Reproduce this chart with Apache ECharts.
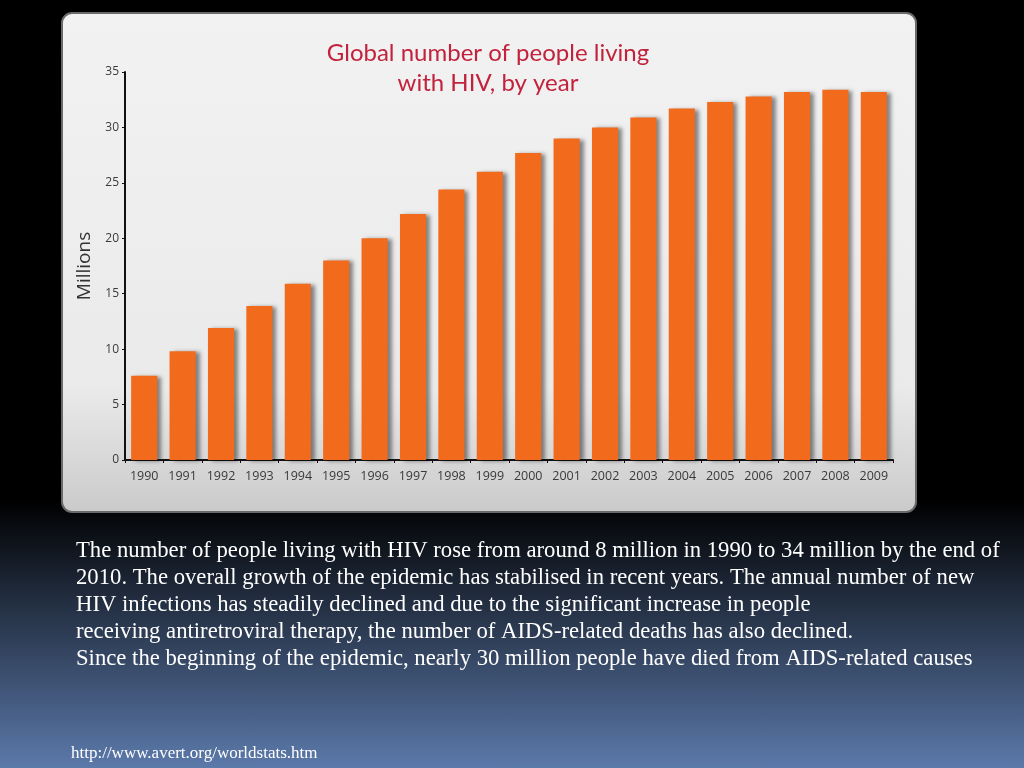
<!DOCTYPE html>
<html>
<head>
<meta charset="utf-8">
<script src="https://cdn.jsdelivr.net/npm/echarts@6/dist/echarts.min.js"></script>
<style>
html,body{margin:0;padding:0;width:1024px;height:768px;overflow:hidden;}
#c{width:1024px;height:768px;background:linear-gradient(to bottom,#000 0px,#000 500px,#5b79aa 768px);}
</style>
</head>
<body>
<div id="c"></div>
<script>
const years = ['1990','1991','1992','1993','1994','1995','1996','1997','1998','1999','2000','2001','2002','2003','2004','2005','2006','2007','2008','2009'];
const peopleLivingWithHIV = [7.6, 9.8, 11.9, 13.9, 15.9, 18.0, 20.0, 22.2, 24.4, 26.0, 27.7, 29.0, 30.0, 30.9, 31.7, 32.3, 32.8, 33.2, 33.4, 33.2];
const yTicks = [0, 5, 10, 15, 20, 25, 30, 35];
const titleText = 'Global number of people living\nwith HIV, by year';
const yAxisName = 'Millions';
const bodyLines = [
  'The number of people living with HIV rose from around 8 million in 1990 to 34 million by the end of',
  '2010. The overall growth of the epidemic has stabilised in recent years. The annual number of new',
  'HIV infections has steadily declined and due to the significant increase in people',
  'receiving antiretroviral therapy, the number of AIDS-related deaths has also declined.',
  'Since the beginning of the epidemic, nearly 30 million people have died from AIDS-related causes'
];
const sourceText = 'http://www.avert.org/worldstats.htm';

const chart = echarts.init(document.getElementById('c'));
const graphics = [
  {
    type: 'rect', z: -10,
    shape: {x: 62, y: 13, width: 854, height: 499, r: 10},
    style: {
      fill: new echarts.graphic.LinearGradient(0, 0, 0, 1, [
        {offset: 0, color: '#f2f2f2'},
        {offset: 0.75, color: '#eaeaea'},
        {offset: 1, color: '#cacaca'}
      ]),
      stroke: '#6a6a6a', lineWidth: 2
    }
  }
];
bodyLines.forEach((t, i) => {
  graphics.push({
    type: 'text', left: 76, top: 540 + i * 27,
    style: {text: t, fill: '#ffffff', font: '22.7px "Liberation Serif", "Times New Roman", serif'}
  });
});
graphics.push({
  type: 'text', left: 71, top: 745,
  style: {text: sourceText, fill: '#ffffff', font: '17px "Liberation Serif", "Times New Roman", serif'}
});

chart.setOption({
  animation: false,
  backgroundColor: 'transparent',
  title: {
    text: titleText,
    left: 483, top: 33, textAlign: 'center',
    textStyle: {color: '#c2223c', fontFamily: 'Lato', fontSize: 24, fontWeight: 'normal', lineHeight: 30}
  },
  graphic: graphics,
  grid: {left: 125, right: 131, top: 72, bottom: 308},
  xAxis: {
    type: 'category', data: years,
    axisLine: {lineStyle: {color: '#111', width: 2}},
    axisTick: {show: true, length: 3, lineStyle: {color: '#111'}},
    axisLabel: {interval: 0, color: '#3a3a3a', fontFamily: 'Open Sans', fontSize: 12.5, margin: 10}
  },
  yAxis: {
    type: 'value', min: 0, max: 35, interval: 5,
    name: yAxisName, nameLocation: 'middle', nameGap: 30, nameRotate: 90,
    nameTextStyle: {color: '#333', fontFamily: 'Open Sans', fontSize: 19},
    axisLine: {show: true, lineStyle: {color: '#111', width: 2}},
    axisTick: {show: true, length: 3, lineStyle: {color: '#111'}},
    splitLine: {show: false},
    axisLabel: {color: '#3a3a3a', fontFamily: 'Open Sans', fontSize: 12, margin: 6,
      formatter: v => yTicks.includes(v) ? String(v) : ''}
  },
  series: [{
    type: 'bar', data: peopleLivingWithHIV, barWidth: '68%',
    itemStyle: {color: '#f26b1d', shadowColor: 'rgba(0,0,0,0.45)', shadowBlur: 4, shadowOffsetX: 4, shadowOffsetY: 1}
  }]
});
</script>
</body>
</html>
